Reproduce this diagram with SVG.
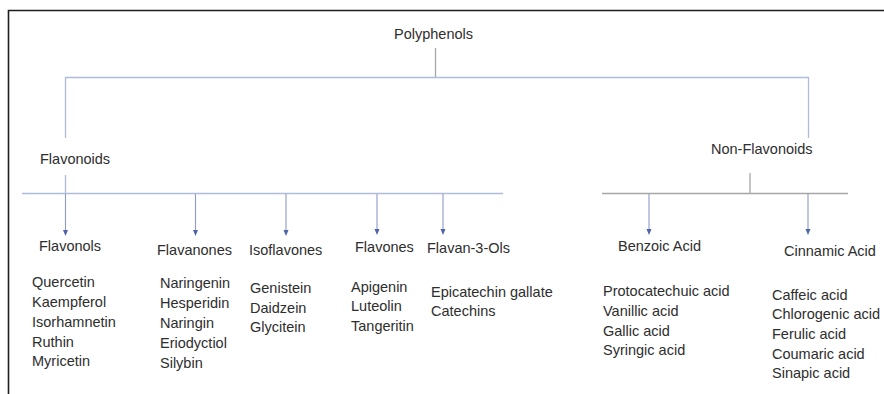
<svg xmlns="http://www.w3.org/2000/svg" width="884" height="394" viewBox="0 0 884 394">
  <style>
    text { font-family: "Liberation Sans", Arial, sans-serif; font-size: 14.5px; fill: #2e2e2e; }
    .frame { stroke: #1e1e1e; stroke-width: 1.6; fill: none; }
    .blue { stroke: #aebbd9; stroke-width: 1.3; fill: none; }
    .gray { stroke: #a6a6a6; stroke-width: 1.3; fill: none; }
    .arrow { stroke: #8c9bc9; stroke-width: 1.1; fill: none; marker-end: url(#head); }
  </style>
  <defs>
    <marker id="head" viewBox="0 0 6 6" refX="3" refY="3" markerWidth="6" markerHeight="6" markerUnits="userSpaceOnUse" orient="auto">
      <path d="M0,0.5 L6,3 L0,5.5 z" fill="#4f64a8"/>
    </marker>
  </defs>

  <rect width="884" height="394" fill="#ffffff"/>

  <!-- outer frame: top and left edges -->
  <path class="frame" d="M8.5,394 V10.5 H884"/>

  <!-- connectors -->
  <g id="connectors">
    <line class="gray" x1="435.5" y1="48" x2="435.5" y2="77.5"/>
    <path class="blue" d="M65.5,138 V77.5 H808.5 V138"/>
    <line class="blue" x1="65.5" y1="175" x2="65.5" y2="193.5"/>
    <line class="blue" x1="22" y1="193.5" x2="503" y2="193.5"/>
    <line class="gray" x1="750" y1="173" x2="750" y2="193.5"/>
    <line class="gray" x1="602" y1="193.5" x2="848" y2="193.5"/>
    <line class="arrow" x1="65.5" y1="194" x2="65.5" y2="233"/>
    <line class="arrow" x1="195.5" y1="194" x2="195.5" y2="233"/>
    <line class="arrow" x1="286" y1="194" x2="286" y2="233"/>
    <line class="arrow" x1="377" y1="194" x2="377" y2="232"/>
    <line class="arrow" x1="443" y1="194" x2="443" y2="232"/>
    <line class="arrow" x1="649" y1="194" x2="649" y2="232"/>
    <line class="arrow" x1="808" y1="194" x2="808" y2="232"/>
  </g>

  <g id="polyphenols"><text x="394" y="39">Polyphenols</text></g>
  <g id="flavonoids"><text x="40" y="164">Flavonoids</text></g>
  <g id="non-flavonoids"><text x="711" y="154">Non-Flavonoids</text></g>

  <g id="flavonols">
    <text x="39" y="251">Flavonols</text>
    <text x="32" y="287">Quercetin</text>
    <text x="32" y="307">Kaempferol</text>
    <text x="32" y="327">Isorhamnetin</text>
    <text x="32" y="347">Ruthin</text>
    <text x="32" y="366">Myricetin</text>
  </g>

  <g id="flavanones">
    <text x="157" y="255">Flavanones</text>
    <text x="160" y="288">Naringenin</text>
    <text x="160" y="308">Hesperidin</text>
    <text x="160" y="328">Naringin</text>
    <text x="160" y="348">Eriodyctiol</text>
    <text x="160" y="368">Silybin</text>
  </g>

  <g id="isoflavones">
    <text x="249" y="255">Isoflavones</text>
    <text x="250" y="293">Genistein</text>
    <text x="250" y="313">Daidzein</text>
    <text x="250" y="332">Glycitein</text>
  </g>

  <g id="flavones">
    <text x="355" y="252">Flavones</text>
    <text x="351" y="292">Apigenin</text>
    <text x="351" y="311">Luteolin</text>
    <text x="351" y="331">Tangeritin</text>
  </g>

  <g id="flavan-3-ols">
    <text x="427" y="253">Flavan-3-Ols</text>
    <text x="431" y="297">Epicatechin gallate</text>
    <text x="431" y="316">Catechins</text>
  </g>

  <g id="benzoic-acid">
    <text x="618" y="251">Benzoic Acid</text>
    <text x="603" y="296">Protocatechuic acid</text>
    <text x="603" y="316">Vanillic  acid</text>
    <text x="603" y="336">Gallic acid</text>
    <text x="603" y="355">Syringic acid</text>
  </g>

  <g id="cinnamic-acid">
    <text x="784" y="256">Cinnamic Acid</text>
    <text x="772" y="300">Caffeic acid</text>
    <text x="772" y="319">Chlorogenic acid</text>
    <text x="772" y="339">Ferulic acid</text>
    <text x="772" y="359">Coumaric acid</text>
    <text x="772" y="378">Sinapic acid</text>
  </g>
</svg>
